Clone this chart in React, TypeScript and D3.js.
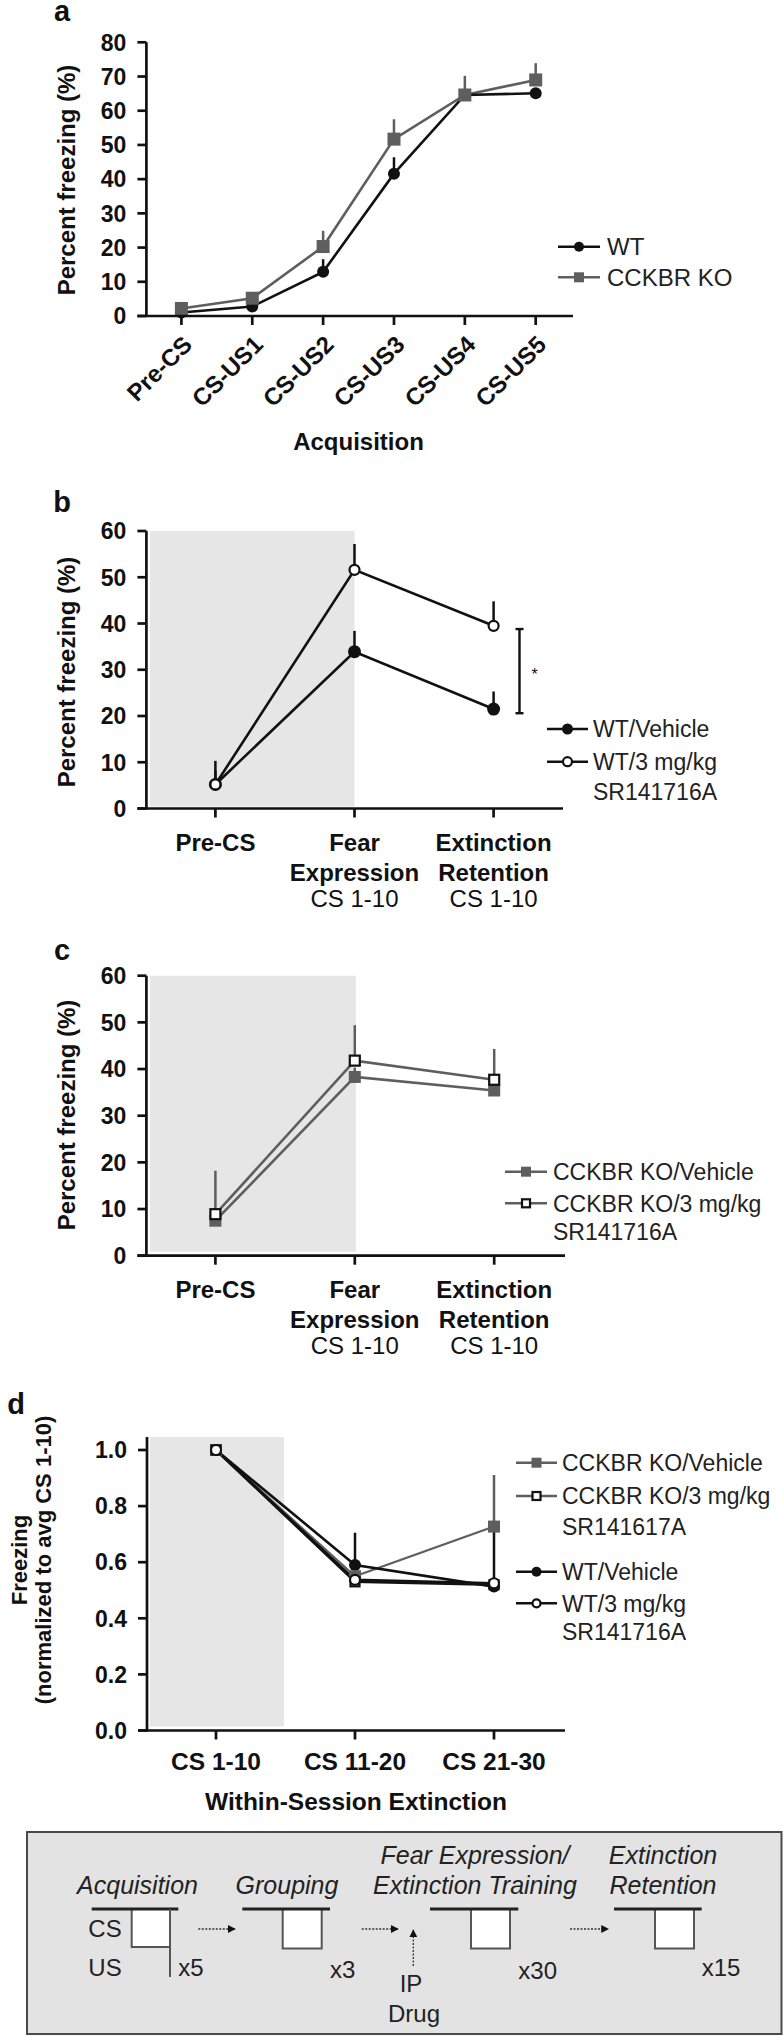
import React from "react";
import * as d3 from "d3";

const FONT = "'Liberation Sans', Arial, Helvetica, sans-serif";

// ---------- Panel a: Acquisition ----------
const acqCategories = ["Pre-CS", "CS-US1", "CS-US2", "CS-US3", "CS-US4", "CS-US5"];
const acqTicks = [0, 10, 20, 30, 40, 50, 60, 70, 80];
const acqWT = [1.0, 2.8, 12.9, 41.6, 64.6, 65.1];
const acqWTErr = [0.6, 0.8, 3.7, 4.8, 1.2, 1.0];
const acqKO = [2.2, 5.2, 20.3, 51.7, 64.6, 69.0];
const acqKOErr = [0.8, 1.3, 4.6, 5.8, 5.6, 4.9];

// ---------- Panels b, c: test sessions ----------
const testCategories = ["Pre-CS", "Fear Expression", "Extinction Retention"];
const testLabelLines = [["Pre-CS"], ["Fear", "Expression"], ["Extinction", "Retention"]];
const testSubLabels = ["", "CS 1-10", "CS 1-10"];
const pctTicks60 = [0, 10, 20, 30, 40, 50, 60];

const wtVehicle = [5.2, 33.9, 21.5];
const wtVehicleErr = [5.1, 4.5, 3.8];
const wtDrug = [5.2, 51.6, 39.5];
const wtDrugErr = [3.0, 5.6, 5.3];
const sigBracket = [20.6, 38.8];

const koVehicle = [7.5, 38.3, 35.4];
const koVehicleErr = [2.0, 2.0, 2.0];
const koDrug = [8.9, 41.8, 37.7];
const koDrugErr = [9.3, 7.6, 6.6];

// ---------- Panel d: within-session extinction ----------
const extCategories = ["CS 1-10", "CS 11-20", "CS 21-30"];
const normTicks = [0, 0.2, 0.4, 0.6, 0.8, 1.0];
const dKoVehicle = [1.0, 0.55, 0.727];
const dKoVehicleErr = [0, 0.02, 0.184];
const dKoDrug = [1.0, 0.53, 0.52];
const dKoDrugErr = [0, 0.02, 0.2];
const dWtVehicle = [1.0, 0.59, 0.513];
const dWtVehicleErr = [0, 0.115, 0];
const dWtDrug = [1.0, 0.537, 0.525];
const dWtDrugErr = [0, 0, 0];

const BLACK = "#111";
const GREY = "#5e5e5e";
const SHADE = "#e6e6e6";
const TICK_FS = 23;
const LABEL_FS = 24;
const LEGEND_FS = 23;

type MarkerKind = "circleFilled" | "circleOpen" | "squareFilled" | "squareOpen";

function Marker({ kind, x, y, size }: { kind: MarkerKind; x: number; y: number; size: number }) {
  if (kind === "circleFilled") return <circle cx={x} cy={y} r={size / 2} fill={BLACK} />;
  if (kind === "circleOpen")
    return <circle cx={x} cy={y} r={size / 2 - 1} fill="#fff" stroke={BLACK} strokeWidth={2.2} />;
  if (kind === "squareFilled")
    return <rect x={x - size / 2} y={y - size / 2} width={size} height={size} fill={GREY} />;
  return (
    <rect x={x - size / 2 + 1} y={y - size / 2 + 1} width={size - 2} height={size - 2} fill="#fff" stroke={BLACK} strokeWidth={2.2} />
  );
}

function SeriesLine({ cats, vals, x, y, color, width }: any) {
  const line = d3
    .line<number>()
    .x((_, i) => x(cats[i]))
    .y((v) => y(v));
  return <path d={line(vals) || ""} fill="none" stroke={color} strokeWidth={width} />;
}

function ErrBars({ cats, vals, errs, x, y, color }: any) {
  return (
    <g>
      {vals.map((v: number, i: number) =>
        errs[i] > 0 ? (
          <line key={i} x1={x(cats[i])} x2={x(cats[i])} y1={y(v)} y2={y(v + errs[i])} stroke={color} strokeWidth={2.5} />
        ) : null
      )}
    </g>
  );
}

function Markers({ cats, vals, x, y, kind, size }: any) {
  return (
    <g>
      {vals.map((v: number, i: number) => (
        <Marker key={i} kind={kind} x={x(cats[i])} y={y(v)} size={size} />
      ))}
    </g>
  );
}

function YAxis({ y, ticks, x0, top, fmt }: any) {
  return (
    <g>
      <line x1={x0} x2={x0} y1={y(0) + 1} y2={top} stroke={BLACK} strokeWidth={2.7} />
      {ticks.map((t: number) => (
        <g key={t}>
          <line x1={x0 - 9} x2={x0} y1={y(t)} y2={y(t)} stroke={BLACK} strokeWidth={2.7} />
          <text x={x0 - 20} y={y(t)} dy="0.36em" textAnchor="end" fontFamily={FONT} fontWeight="bold" fontSize={TICK_FS} fill={BLACK}>
            {fmt(t)}
          </text>
        </g>
      ))}
    </g>
  );
}

function XAxis({ x, cats, y0, x0, x1 }: any) {
  return (
    <g>
      <line x1={x0 - 9} x2={x1} y1={y0} y2={y0} stroke={BLACK} strokeWidth={2.7} />
      {cats.map((c: string) => (
        <line key={c} x1={x(c)} x2={x(c)} y1={y0} y2={y0 + 9} stroke={BLACK} strokeWidth={2.7} />
      ))}
    </g>
  );
}

function Legend({ items, x1, x2, xt, fontSize }: any) {
  return (
    <g>
      {items.map((it: any, i: number) => (
        <g key={i}>
          {it.kind ? (
            <>
              <line x1={x1} x2={x2} y1={it.y} y2={it.y} stroke={it.color} strokeWidth={2.5} />
              <Marker kind={it.kind} x={(x1 + x2) / 2} y={it.y} size={it.size} />
            </>
          ) : null}
          <text x={xt} y={it.y} dy="0.36em" fontFamily={FONT} fontSize={fontSize} fill="#222">
            {it.text}
          </text>
        </g>
      ))}
    </g>
  );
}

function YTitle({ x, y, lines, fontSize }: any) {
  return (
    <text transform={`translate(${x},${y}) rotate(-90)`} textAnchor="middle" fontFamily={FONT} fontWeight="bold" fontSize={fontSize} fill={BLACK}>
      {lines.map((l: string, i: number) => (
        <tspan key={i} x={0} dy={i === 0 ? "0.36em" : "1.1em"}>
          {l}
        </tspan>
      ))}
    </text>
  );
}

function PanelLetter({ x, baseline, letter }: any) {
  return (
    <text x={x} y={baseline} textAnchor="middle" fontFamily={FONT} fontWeight="bold" fontSize={29} fill={BLACK}>
      {letter}
    </text>
  );
}

function TestLabels({ x, y0 }: any) {
  return (
    <g>
      {testCategories.map((c, i) => (
        <g key={c}>
          {testLabelLines[i].map((l, j) => (
            <text key={l} x={x(c)} y={y0 + 34 + j * 30} dy="0.36em" textAnchor="middle" fontFamily={FONT} fontWeight="bold" fontSize={LABEL_FS} fill={BLACK}>
              {l}
            </text>
          ))}
          {testSubLabels[i] ? (
            <text x={x(c)} y={y0 + 90} dy="0.36em" textAnchor="middle" fontFamily={FONT} fontSize={LABEL_FS} fill={BLACK}>
              {testSubLabels[i]}
            </text>
          ) : null}
        </g>
      ))}
    </g>
  );
}

function PanelA() {
  const x = d3.scalePoint<string>().domain(acqCategories).range([181.4, 535.7]);
  const y = d3.scaleLinear().domain([0, 80]).range([316, 42.3]);
  const y0 = y(0);
  return (
    <g>
      <PanelLetter x={62} baseline={21} letter="a" />
      <YTitle x={66} y={180} lines={["Percent freezing (%)"]} fontSize={LABEL_FS} />
      <SeriesLine cats={acqCategories} vals={acqKO} x={x} y={y} color={GREY} width={2.6} />
      <SeriesLine cats={acqCategories} vals={acqWT} x={x} y={y} color={BLACK} width={2.6} />
      <ErrBars cats={acqCategories} vals={acqKO} errs={acqKOErr} x={x} y={y} color={GREY} />
      <ErrBars cats={acqCategories} vals={acqWT} errs={acqWTErr} x={x} y={y} color={BLACK} />
      <Markers cats={acqCategories} vals={acqWT} x={x} y={y} kind="circleFilled" size={12} />
      <Markers cats={acqCategories} vals={acqKO} x={x} y={y} kind="squareFilled" size={13} />
      <YAxis y={y} ticks={acqTicks} x0={146.4} top={y(80)} fmt={(t: number) => String(t)} />
      <XAxis x={x} cats={acqCategories} y0={y0} x0={146.4} x1={573} />
      {acqCategories.map((c) => (
        <text key={c} transform={`translate(${(x(c) as number) + 6},${y0 + 24}) rotate(-45)`} textAnchor="end" dy="0.36em" fontFamily={FONT} fontWeight="bold" fontSize={LABEL_FS} fill={BLACK}>
          {c}
        </text>
      ))}
      <text x={358.5} y={441} dy="0.36em" textAnchor="middle" fontFamily={FONT} fontWeight="bold" fontSize={LABEL_FS} fill={BLACK}>
        Acquisition
      </text>
      <Legend
        x1={558}
        x2={600}
        xt={607}
        fontSize={24}
        items={[
          { y: 246.7, kind: "circleFilled", size: 10, color: BLACK, text: "WT" },
          { y: 277.3, kind: "squareFilled", size: 10, color: GREY, text: "CCKBR KO" },
        ]}
      />
    </g>
  );
}

function PanelB() {
  const x = d3.scalePoint<string>().domain(testCategories).range([215.4, 493.6]);
  const y = d3.scaleLinear().domain([0, 60]).range([808.5, 531]);
  const y0 = y(0);
  const bx = 519.5;
  return (
    <g>
      <rect x={150} y={y(60)} width={(x("Fear Expression") as number) - 150} height={y0 - y(60) - 2} fill={SHADE} />
      <PanelLetter x={62} baseline={512} letter="b" />
      <YTitle x={66} y={672} lines={["Percent freezing (%)"]} fontSize={LABEL_FS} />
      <SeriesLine cats={testCategories} vals={wtDrug} x={x} y={y} color={BLACK} width={2.6} />
      <SeriesLine cats={testCategories} vals={wtVehicle} x={x} y={y} color={BLACK} width={2.6} />
      <ErrBars cats={testCategories} vals={wtDrug} errs={wtDrugErr} x={x} y={y} color={BLACK} />
      <ErrBars cats={testCategories} vals={wtVehicle} errs={wtVehicleErr} x={x} y={y} color={BLACK} />
      <Markers cats={testCategories} vals={wtVehicle} x={x} y={y} kind="circleFilled" size={13} />
      <Markers cats={testCategories} vals={wtDrug} x={x} y={y} kind="circleOpen" size={12} />
      <g stroke={BLACK} strokeWidth={2.4}>
        <line x1={bx} x2={bx} y1={y(sigBracket[0])} y2={y(sigBracket[1])} />
        <line x1={bx - 4} x2={bx + 4} y1={y(sigBracket[0])} y2={y(sigBracket[0])} />
        <line x1={bx - 4} x2={bx + 4} y1={y(sigBracket[1])} y2={y(sigBracket[1])} />
      </g>
      <text x={bx + 15} y={y((sigBracket[0] + sigBracket[1]) / 2) + 9} textAnchor="middle" fontFamily={FONT} fontSize={16} fill={BLACK}>
        *
      </text>
      <YAxis y={y} ticks={pctTicks60} x0={146.4} top={y(60)} fmt={(t: number) => String(t)} />
      <XAxis x={x} cats={testCategories} y0={y0} x0={146.4} x1={563} />
      <TestLabels x={x} y0={y0} />
      <Legend
        x1={547}
        x2={588}
        xt={593}
        fontSize={LEGEND_FS}
        items={[
          { y: 729, kind: "circleFilled", size: 11, color: BLACK, text: "WT/Vehicle" },
          { y: 761.7, kind: "circleOpen", size: 11, color: BLACK, text: "WT/3 mg/kg" },
          { y: 791.7, text: "SR141716A" },
        ]}
      />
    </g>
  );
}

function PanelC() {
  const x = d3.scalePoint<string>().domain(testCategories).range([215.4, 494.2]);
  const y = d3.scaleLinear().domain([0, 60]).range([1255.7, 975.7]);
  const y0 = y(0);
  return (
    <g>
      <rect x={150} y={y(60)} width={(x("Fear Expression") as number) + 1 - 150} height={y0 - y(60) - 4} fill={SHADE} />
      <PanelLetter x={62} baseline={960} letter="c" />
      <YTitle x={66} y={1115} lines={["Percent freezing (%)"]} fontSize={LABEL_FS} />
      <SeriesLine cats={testCategories} vals={koDrug} x={x} y={y} color={GREY} width={2.6} />
      <SeriesLine cats={testCategories} vals={koVehicle} x={x} y={y} color={GREY} width={2.6} />
      <ErrBars cats={testCategories} vals={koDrug} errs={koDrugErr} x={x} y={y} color={GREY} />
      <ErrBars cats={testCategories} vals={koVehicle} errs={koVehicleErr} x={x} y={y} color={GREY} />
      <Markers cats={testCategories} vals={koVehicle} x={x} y={y} kind="squareFilled" size={12} />
      <Markers cats={testCategories} vals={koDrug} x={x} y={y} kind="squareOpen" size={12} />
      <YAxis y={y} ticks={pctTicks60} x0={146.4} top={y(60)} fmt={(t: number) => String(t)} />
      <XAxis x={x} cats={testCategories} y0={y0} x0={146.4} x1={565} />
      <TestLabels x={x} y0={y0} />
      <Legend
        x1={505}
        x2={547}
        xt={553}
        fontSize={LEGEND_FS}
        items={[
          { y: 1171.7, kind: "squareFilled", size: 10, color: GREY, text: "CCKBR KO/Vehicle" },
          { y: 1203.3, kind: "squareOpen", size: 10, color: GREY, text: "CCKBR KO/3 mg/kg" },
          { y: 1231.7, text: "SR141716A" },
        ]}
      />
    </g>
  );
}

function PanelD() {
  const x = d3.scalePoint<string>().domain(extCategories).range([216, 494]);
  const y = d3.scaleLinear().domain([0, 1]).range([1730.5, 1450]);
  const y0 = y(0);
  const top = y(1.046);
  return (
    <g>
      <rect x={150} y={top} width={284 - 150} height={y0 - top - 4} fill={SHADE} />
      <PanelLetter x={16} baseline={1414} letter="d" />
      <YTitle x={19} y={1560} lines={["Freezing", "(normalized to avg CS 1-10)"]} fontSize={22} />
      <SeriesLine cats={extCategories} vals={dKoVehicle} x={x} y={y} color={GREY} width={2.2} />
      <SeriesLine cats={extCategories} vals={dWtVehicle} x={x} y={y} color={BLACK} width={2.6} />
      <SeriesLine cats={extCategories} vals={dWtDrug} x={x} y={y} color={BLACK} width={2.6} />
      <SeriesLine cats={extCategories} vals={dKoDrug} x={x} y={y} color={BLACK} width={2.6} />
      <ErrBars cats={extCategories} vals={dKoVehicle} errs={dKoVehicleErr} x={x} y={y} color={GREY} />
      <ErrBars cats={extCategories} vals={dKoDrug} errs={dKoDrugErr} x={x} y={y} color={BLACK} />
      <ErrBars cats={extCategories} vals={dWtVehicle} errs={dWtVehicleErr} x={x} y={y} color={BLACK} />
      <ErrBars cats={extCategories} vals={dWtDrug} errs={dWtDrugErr} x={x} y={y} color={BLACK} />
      <Markers cats={extCategories} vals={dWtVehicle} x={x} y={y} kind="circleFilled" size={12} />
      <Markers cats={extCategories} vals={dKoVehicle} x={x} y={y} kind="squareFilled" size={12} />
      <Markers cats={extCategories} vals={dKoDrug} x={x} y={y} kind="squareOpen" size={11} />
      <Markers cats={extCategories} vals={dWtDrug} x={x} y={y} kind="circleOpen" size={12} />
      <YAxis y={y} ticks={normTicks} x0={147} top={top} fmt={(t: number) => t.toFixed(1)} />
      <XAxis x={x} cats={extCategories} y0={y0} x0={147} x1={565} />
      {extCategories.map((c) => (
        <text key={c} x={x(c)} y={y0 + 31} dy="0.36em" textAnchor="middle" fontFamily={FONT} fontWeight="bold" fontSize={24.5} fill={BLACK}>
          {c}
        </text>
      ))}
      <text x={356} y={1801} dy="0.36em" textAnchor="middle" fontFamily={FONT} fontWeight="bold" fontSize={24.5} fill={BLACK}>
        Within-Session Extinction
      </text>
      <Legend
        x1={516}
        x2={557}
        xt={562}
        fontSize={LEGEND_FS}
        items={[
          { y: 1462.7, kind: "squareFilled", size: 10, color: GREY, text: "CCKBR KO/Vehicle" },
          { y: 1496, kind: "squareOpen", size: 10, color: GREY, text: "CCKBR KO/3 mg/kg" },
          { y: 1526.7, text: "SR141617A" },
          { y: 1571.7, kind: "circleFilled", size: 10, color: BLACK, text: "WT/Vehicle" },
          { y: 1603.3, kind: "circleOpen", size: 10, color: BLACK, text: "WT/3 mg/kg" },
          { y: 1631.7, text: "SR141716A" },
        ]}
      />
    </g>
  );
}

// ---------- Protocol schematic ----------
const stages = [
  { title: ["Acquisition"], lineX: [91.7, 178.3], boxX: [131.7, 170], reps: "x5", repsX: 178.3, repsY: 1967 },
  { title: ["Grouping"], lineX: [242.3, 330], boxX: [282.7, 321.7], reps: "x3", repsX: 330, repsY: 1969 },
  { title: ["Fear Expression/", "Extinction Training"], lineX: [430, 518.3], boxX: [471, 510], reps: "x30", repsX: 518.3, repsY: 1970 },
  { title: ["Extinction", "Retention"], lineX: [614, 701.7], boxX: [655, 694], reps: "x15", repsX: 701.7, repsY: 1967 },
];
const stageTitleX = [137.5, 287, 475, 663];
const arrowsX = [
  [198.3, 235],
  [361.7, 398],
  [570, 608.3],
];

function Protocol() {
  const lineY = 1909;
  const boxBottom = 1948.5;
  return (
    <g fontFamily={FONT} fill="#222">
      <defs>
        <marker id="ah" viewBox="0 0 10 10" refX="9" refY="5" markerWidth="6" markerHeight="6" orient="auto-start-reverse">
          <path d="M0,0 L10,5 L0,10 z" fill="#111" />
        </marker>
      </defs>
      <rect x={27} y={1832} width={754.5} height={202} fill="#e3e3e3" stroke="#4a4a4a" strokeWidth={2} />
      {stages.map((s, i) => (
        <g key={i}>
          {s.title.map((t, j) => (
            <text key={t} x={stageTitleX[i]} y={s.title.length === 2 ? 1855 + j * 30 : 1885} dy="0.36em" textAnchor="middle" fontStyle="italic" fontSize={25} fill="#222">
              {t}
            </text>
          ))}
          <rect x={s.boxX[0]} y={lineY} width={s.boxX[1] - s.boxX[0]} height={boxBottom - lineY - (i === 0 ? 1.5 : 0)} fill="#fff" stroke="#555" strokeWidth={2} />
          <line x1={s.lineX[0]} x2={s.lineX[1]} y1={lineY} y2={lineY} stroke="#222" strokeWidth={3} />
          <text x={s.repsX} y={s.repsY} dy="0.36em" fontSize={24} fill="#222">
            {s.reps}
          </text>
        </g>
      ))}
      <line x1={170} x2={170} y1={lineY} y2={1977} stroke="#555" strokeWidth={2} />
      <text x={105} y={1928} dy="0.36em" textAnchor="middle" fontSize={24} fill="#222">CS</text>
      <text x={105} y={1967} dy="0.36em" textAnchor="middle" fontSize={24} fill="#222">US</text>
      {arrowsX.map((a, i) => (
        <line key={i} x1={a[0]} x2={a[1]} y1={1929} y2={1929} stroke="#333" strokeWidth={1.3} strokeDasharray="2,1.5" markerEnd="url(#ah)" />
      ))}
      <line x1={413.3} x2={413.3} y1={1966} y2={1930} stroke="#333" strokeWidth={1.3} strokeDasharray="2,1.5" markerEnd="url(#ah)" />
      <text x={411} y={1983} dy="0.36em" textAnchor="middle" fontSize={24} fill="#222">IP</text>
      <text x={414} y={2013} dy="0.36em" textAnchor="middle" fontSize={24} fill="#222">Drug</text>
    </g>
  );
}

export default function App() {
  return (
    <svg
      width={783}
      height={2037}
      viewBox="0 0 783 2037"
      style={{ position: "absolute", left: 0, top: 0, background: "#fff", display: "block" }}
    >
      <rect x={0} y={0} width={783} height={2037} fill="#fff" />
      <PanelA />
      <PanelB />
      <PanelC />
      <PanelD />
      <Protocol />
    </svg>
  );
}
